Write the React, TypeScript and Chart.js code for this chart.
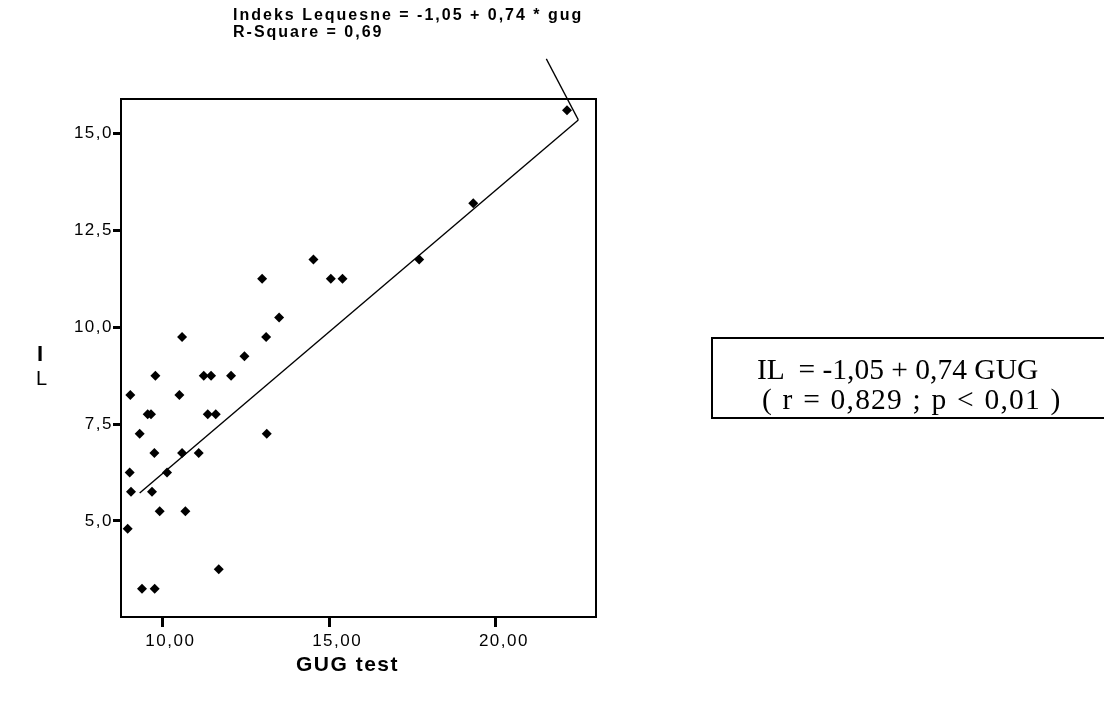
import React, { useEffect, useRef } from "react";
import { Chart, registerables } from "chart.js";

Chart.register(...registerables);

// ---- data ----
const gugValues = [
  22.13, 19.32, 17.7, 14.53, 12.99, 15.05, 15.4, 13.5, 13.11, 10.59, 12.46,
  9.79, 11.24, 11.46, 12.06, 9.04, 10.51, 9.56, 9.66, 11.36, 11.6, 9.32,
  13.13, 9.76, 10.59, 11.09, 9.02, 10.14, 9.06, 9.69, 9.92, 10.69, 8.96,
  11.69, 9.39, 9.77,
];
const ilValues = [
  15.6, 13.2, 11.75, 11.75, 11.25, 11.25, 11.25, 10.25, 9.75, 9.75, 9.25,
  8.75, 8.75, 8.75, 8.75, 8.25, 8.25, 7.75, 7.75, 7.75, 7.75, 7.25,
  7.25, 6.75, 6.75, 6.75, 6.25, 6.25, 5.75, 5.75, 5.25, 5.25, 4.8,
  3.75, 3.25, 3.25,
];
const fitX = [9.32, 22.47];
const fitY = [5.72, 15.35];

const xTickValues = [10, 15, 20];
const xTickLabels = ["10,00", "15,00", "20,00"];
const yTickValues = [5, 7.5, 10, 12.5, 15];
const yTickLabels = ["5,0", "7,5", "10,0", "12,5", "15,0"];
const xRange = [8.76, 23.0];
const yRange = [2.52, 15.89];

const titleLines = ["Indeks Lequesne = -1,05 + 0,74 * gug", "R-Square = 0,69"];
const boxLines = ["IL  = -1,05 + 0,74 GUG", "( r = 0,829 ; p < 0,01 )"];
const xTitle = "GUG test";
const yTitle = ["I", "L"];

const SANS = "'Liberation Sans', Arial, sans-serif";
const SERIF = "'Liberation Serif', 'Times New Roman', serif";

const framePlugin = {
  id: "frame",
  beforeDraw(chart: any) {
    chart.ctx.letterSpacing = "1.5px";
  },
  afterDatasetsDraw(chart: any) {
    const { ctx, chartArea: a, scales } = chart;
    ctx.save();
    ctx.strokeStyle = "#000";
    ctx.lineWidth = 2;
    ctx.strokeRect(a.left, a.top, a.right - a.left, a.bottom - a.top);
    const ex = scales.x.getPixelForValue(fitX[fitX.length - 1]);
    const ey = scales.y.getPixelForValue(fitY[fitY.length - 1]);
    ctx.lineWidth = 1.3;
    ctx.beginPath();
    ctx.moveTo(ex, ey);
    ctx.lineTo(ex - 32, ey - 61);
    ctx.stroke();
    ctx.restore();
  },
  afterDraw(chart: any) {
    chart.ctx.letterSpacing = "0px";
  },
};

export default function App() {
  const canvasRef = useRef<HTMLCanvasElement | null>(null);

  useEffect(() => {
    if (!canvasRef.current) return;
    const chart = new Chart(canvasRef.current, {
      type: "scatter",
      data: {
        datasets: [
          {
            label: "IL",
            data: gugValues.map((x, i) => ({ x, y: ilValues[i] })),
            pointStyle: "rectRot",
            pointRadius: 5,
            backgroundColor: "#000",
            borderColor: "#000",
            borderWidth: 0,
          },
          {
            label: "fit",
            data: fitX.map((x, i) => ({ x, y: fitY[i] })),
            showLine: true,
            borderColor: "#000",
            borderWidth: 1.4,
            pointRadius: 0,
            fill: false,
          },
        ],
      },
      options: {
        responsive: false,
        animation: false,
        devicePixelRatio: 1,
        layout: { padding: { left: 0, top: 99, right: 508, bottom: 50 } },
        plugins: { legend: { display: false }, tooltip: { enabled: false } },
        scales: {
          x: {
            type: "linear",
            min: xRange[0],
            max: xRange[1],
            afterBuildTicks: (s: any) => {
              s.ticks = xTickValues.map((v) => ({ value: v }));
            },
            afterFit: (s: any) => {
              s.height = 40;
            },
            ticks: {
              callback: (_v: any, i: number) => xTickLabels[i],
              font: { family: SANS, size: 17 },
              color: "#000",
              padding: 4,
              labelOffset: 8,
              maxRotation: 0,
              autoSkip: false,
            },
            grid: {
              display: true,
              drawOnChartArea: false,
              drawTicks: true,
              tickLength: 10,
              tickWidth: 3,
              tickColor: "#000",
              color: "#000",
            },
            border: { display: false },
          },
          y: {
            type: "linear",
            min: yRange[0],
            max: yRange[1],
            afterBuildTicks: (s: any) => {
              s.ticks = yTickValues.map((v) => ({ value: v }));
            },
            afterFit: (s: any) => {
              s.width = 121;
            },
            ticks: {
              callback: (_v: any, i: number) => yTickLabels[i],
              font: { family: SANS, size: 17 },
              color: "#000",
              padding: 0,
              autoSkip: false,
            },
            grid: {
              display: true,
              drawOnChartArea: false,
              drawTicks: true,
              tickLength: 8,
              tickWidth: 3,
              tickColor: "#000",
              color: "#000",
            },
            border: { display: false },
          },
        },
      },
      plugins: [framePlugin],
    } as any);
    return () => chart.destroy();
  }, []);

  const abs = (s: React.CSSProperties): React.CSSProperties => ({
    position: "absolute",
    margin: 0,
    lineHeight: 1,
    whiteSpace: "pre",
    color: "#000",
    ...s,
  });

  return (
    <div
      style={{
        position: "absolute",
        left: 0,
        top: 0,
        width: 1104,
        height: 707,
        overflow: "hidden",
        background: "#fff",
      }}
    >
      <canvas
        ref={canvasRef}
        width={1104}
        height={707}
        style={{ position: "absolute", left: 0, top: 0, width: 1104, height: 707 }}
      />
      <div style={abs({ left: 233, top: 7, fontFamily: SANS, fontWeight: 700, fontSize: 16, letterSpacing: "2px" })}>
        {titleLines[0]}
      </div>
      <div style={abs({ left: 233, top: 24, fontFamily: SANS, fontWeight: 700, fontSize: 16, letterSpacing: "2px" })}>
        {titleLines[1]}
      </div>
      <div style={abs({ left: 37, top: 343, fontFamily: SANS, fontWeight: 700, fontSize: 22 })}>{yTitle[0]}</div>
      <div style={abs({ left: 36, top: 368, fontFamily: SANS, fontWeight: 400, fontSize: 20 })}>{yTitle[1]}</div>
      <div style={abs({ left: 296, top: 653, fontFamily: SANS, fontWeight: 700, fontSize: 21, letterSpacing: "1.5px" })}>
        {xTitle}
      </div>
      <div
        style={{
          position: "absolute",
          left: 711,
          top: 337,
          width: 393,
          height: 82,
          boxSizing: "border-box",
          borderTop: "2px solid #000",
          borderLeft: "2px solid #000",
          borderBottom: "2px solid #000",
        }}
      />
      <div style={abs({ left: 757, top: 355, fontFamily: SERIF, fontSize: 29.5 })}>{boxLines[0]}</div>
      <div
        style={abs({ left: 762, top: 385, fontFamily: SERIF, fontSize: 29.5, letterSpacing: "1.2px", wordSpacing: "1px" })}
      >
        {boxLines[1]}
      </div>
    </div>
  );
}
